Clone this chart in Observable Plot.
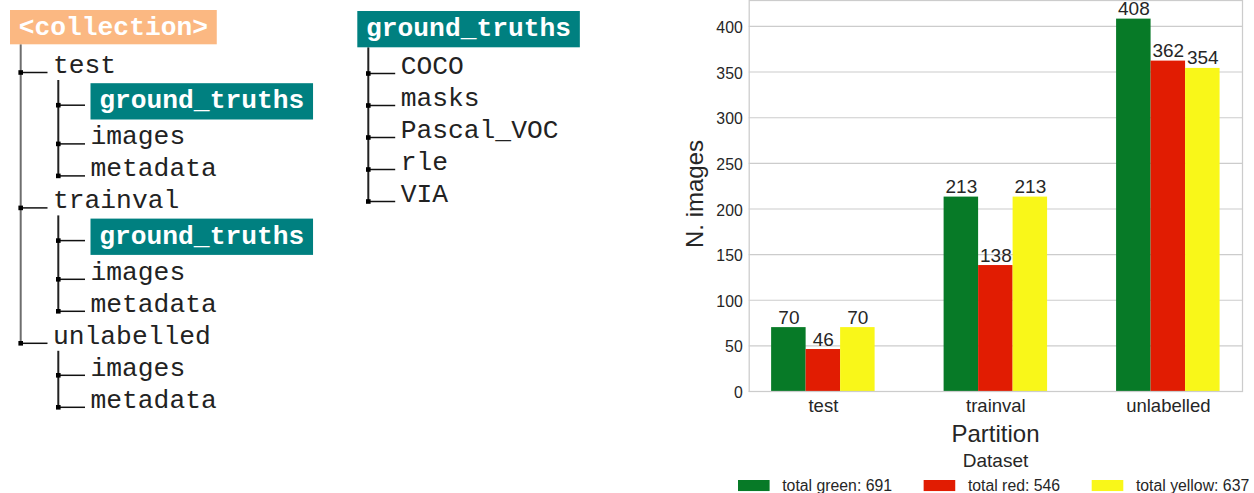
<!DOCTYPE html>
<html><head><meta charset="utf-8">
<script src="https://cdn.jsdelivr.net/npm/d3@7"></script>
<script src="https://cdn.jsdelivr.net/npm/@observablehq/plot@0.6"></script>
<style>
html,body{margin:0;padding:0;background:#fff;}
#root{position:relative;width:1254px;height:493px;overflow:hidden;font-family:"Liberation Sans",Arial,sans-serif;}
#chart{position:absolute;left:680px;top:0;}
#decor{position:absolute;left:0;top:0;pointer-events:none;}
</style></head>
<body><div id="root"><div id="chart"></div></div>
<script>
// ---- chart data ----
const partitions = ["test", "trainval", "unlabelled"];
const datasets = ["green", "red", "yellow"];
const greenValues = [70, 213, 408];
const redValues = [46, 138, 362];
const yellowValues = [70, 213, 354];
const barColors = ["#077a27", "#e11c02", "#f9f719"];
const yTicks = [0, 50, 100, 150, 200, 250, 300, 350, 400];
const yTitle = "N. images";
const xTitle = "Partition";
const legendTitle = "Dataset";

// ---- directory trees ----
const leftTree = [
  {label: "<collection>", depth: 0, box: "#fbb882"},
  {label: "test", depth: 1},
  {label: "ground_truths", depth: 2, box: "#008080"},
  {label: "images", depth: 2},
  {label: "metadata", depth: 2},
  {label: "trainval", depth: 1},
  {label: "ground_truths", depth: 2, box: "#008080"},
  {label: "images", depth: 2},
  {label: "metadata", depth: 2},
  {label: "unlabelled", depth: 1},
  {label: "images", depth: 2},
  {label: "metadata", depth: 2}
];
const rightTree = [
  {label: "ground_truths", depth: 0, box: "#008080"},
  {label: "COCO", depth: 1},
  {label: "masks", depth: 1},
  {label: "Pascal_VOC", depth: 1},
  {label: "rle", depth: 1},
  {label: "VIA", depth: 1}
];

const valuesBy = [greenValues, redValues, yellowValues];
const rows = [];
partitions.forEach((p, i) => datasets.forEach((s, j) => rows.push({partition: p, dataset: s, i, j, value: valuesBy[j][i]})));
const totals = valuesBy.map(v => d3.sum(v));
const barW = 0.2;

const H = 430;
const chart = Plot.plot({
  width: 574, height: H,
  marginLeft: 68.7, marginRight: 12, marginTop: 0, marginBottom: H - 391,
  style: {fontFamily: '"Liberation Sans", Arial, sans-serif', color: "#262626", background: "transparent", overflow: "visible"},
  x: {domain: [-0.43, 2.43]},
  y: {domain: [0, d3.max(rows, d => d.value) * 1.05]},
  marks: [
    Plot.ruleY(yTicks, {stroke: "#cccccc", strokeWidth: 1.1}),
    Plot.rect(rows, {x1: d => d.i + (d.j - 1.5) * barW, x2: d => d.i + (d.j - 0.5) * barW, y1: () => 0, y2: "value", fill: d => barColors[d.j]}),
    Plot.text(rows, {x: d => d.i + (d.j - 1) * barW, y: "value", text: d => String(d.value), lineAnchor: "bottom", dy: -4, fontSize: 19, fill: "#262626"}),
    Plot.axisY(yTicks, {tickSize: 0, tickPadding: 6.5, fontSize: 15.8, dy: 1.5, label: null, fill: "#262626"}),
    Plot.axisX([0, 1, 2], {tickSize: 0, tickPadding: 7.5, fontSize: 18.5, tickFormat: i => partitions[i], label: null, fill: "#262626"}),
    Plot.frame({stroke: "#cccccc", strokeWidth: 1.25})
  ]
});
document.getElementById("chart").append(chart);

// ---- decorations (trees, titles, legend) ----
const svg = d3.select("#root").append("svg").attr("id", "decor").attr("width", 1254).attr("height", 493);

const FS = 26.3, CH = FS * 0.6, PAD = 8.7;
function drawTree(nodes, L) {
  const g = svg.append("g");
  let y = L.baseline0;
  nodes.forEach((n, k) => {
    if (k > 0) {
      const p = nodes[k - 1];
      y += 32 + (p.box ? 4.2 : 0) + (n.box ? 3.2 : 0) + (p.depth === 0 ? 1.8 : 0);
    }
    n.y = y;
    n.x = n.depth === 0 ? L.rootX : L.textX[n.depth];
    n.cy = n.y - (n.box ? 3 : 0.5);
    n.bh = n.depth === 0 && L.rootBoxH ? L.rootBoxH : 36.3;
    for (let j = k - 1; j >= 0; j--) if (nodes[j].depth === n.depth - 1) { n.parent = nodes[j]; break; }
  });
  nodes.forEach(p => {
    const kids = nodes.filter(n => n.parent === p);
    if (!kids.length) return;
    const lx = L.lineX[p.depth];
    const y0 = p.box ? p.y - 25 + p.bh : p.y + 7;
    const y1 = kids[kids.length - 1].cy;
    g.append("line").attr("x1", lx).attr("x2", lx).attr("y1", y0).attr("y2", y1)
      .attr("stroke", p.depth === 0 ? L.rootLine : "#222").attr("stroke-width", 2);
    kids.forEach(c => {
      g.append("line").attr("x1", lx).attr("x2", c.x - 5.5).attr("y1", c.cy).attr("y2", c.cy)
        .attr("stroke", "#111").attr("stroke-width", 1.5);
      g.append("rect").attr("x", lx - 2.3).attr("y", c.cy - 2.3).attr("width", 4.6).attr("height", 4.6).attr("fill", "#000");
    });
  });
  nodes.forEach(n => {
    if (n.box) {
      g.append("rect").attr("x", n.x).attr("y", n.y - 25).attr("width", n.label.length * CH + 2 * PAD).attr("height", n.bh).attr("fill", n.box);
      g.append("text").attr("x", n.x + PAD).attr("y", n.y).text(n.label)
        .attr("font-family", '"Liberation Mono", monospace').attr("font-size", FS).attr("font-weight", "bold").attr("fill", "#fff");
    } else {
      g.append("text").attr("x", n.x).attr("y", n.y).text(n.label)
        .attr("font-family", '"Liberation Mono", monospace').attr("font-size", FS).attr("fill", "#222");
    }
  });
}
drawTree(leftTree, {rootX: 10, baseline0: 35, textX: [19, 53, 90.5], lineX: [20.7, 58.3], rootBoxH: 34.3, rootLine: "#6e6e6e"});
drawTree(rightTree, {rootX: 357.3, baseline0: 36, textX: [366.7, 400.7], lineX: [368.3], rootLine: "#222"});

// axis titles
svg.append("text").attr("transform", "translate(703.3,194) rotate(-90)").attr("text-anchor", "middle")
  .attr("font-size", 24).attr("fill", "#262626").text(yTitle);
svg.append("text").attr("x", 995.5).attr("y", 442.3).attr("text-anchor", "middle")
  .attr("font-size", 24).attr("fill", "#262626").text(xTitle);
svg.append("text").attr("x", 995.5).attr("y", 467.3).attr("text-anchor", "middle")
  .attr("font-size", 19).attr("fill", "#262626").text(legendTitle);

// legend
const LF = 15.8;
let lx = 738;
datasets.forEach((s, j) => {
  svg.append("rect").attr("x", lx).attr("y", 480).attr("width", 2 * LF).attr("height", 0.7 * LF).attr("fill", barColors[j]);
  const t = svg.append("text").attr("x", lx + 2 * LF + 0.8 * LF).attr("y", 491).attr("font-size", LF).attr("fill", "#262626")
    .text(`total ${s}: ${totals[j]}`);
  lx += 2 * LF + 0.8 * LF + t.node().getComputedTextLength() + 2 * LF;
});
</script>
</body></html>
